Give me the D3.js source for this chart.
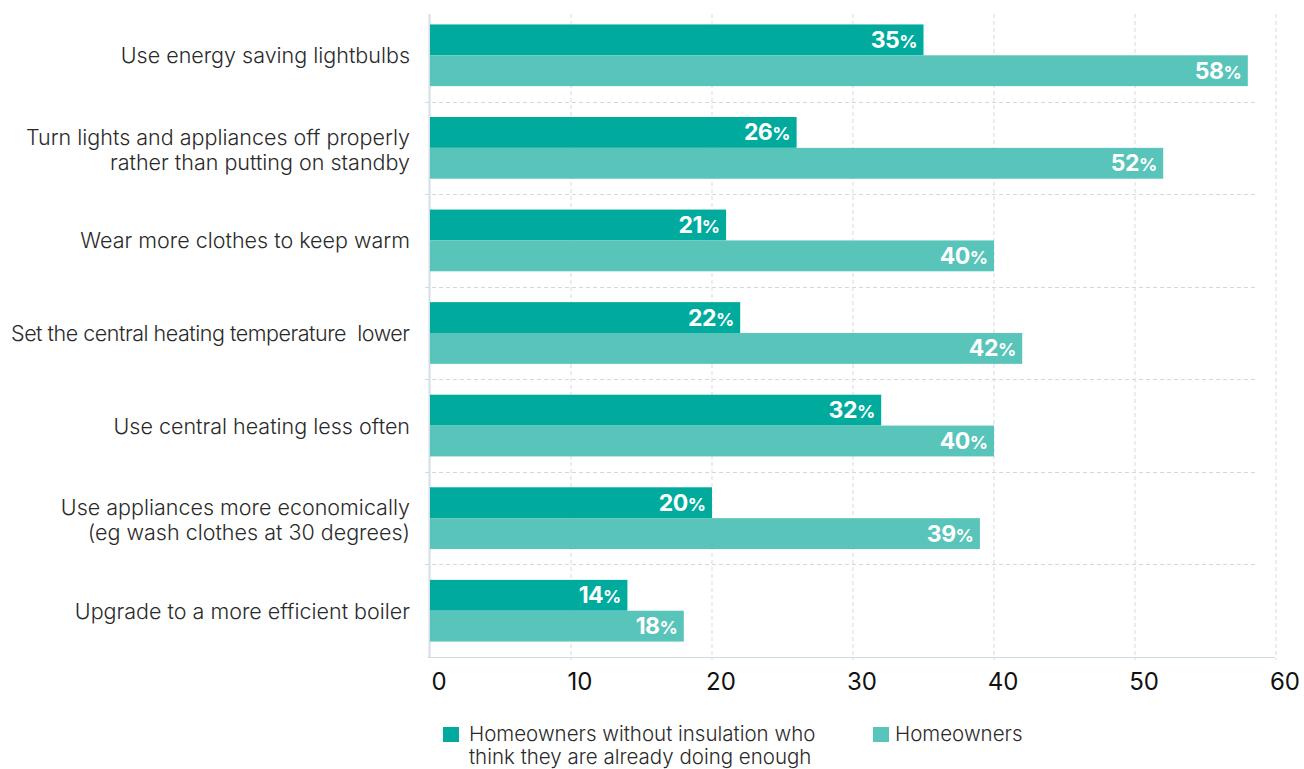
<!DOCTYPE html>
<html>
<head>
<meta charset="utf-8">
<script src="https://cdn.jsdelivr.net/npm/d3@7"></script>
<style>
  html, body { margin: 0; padding: 0; background: #fff; }
  svg { display: block; }
  .cat { font-family: Inter, "Open Sans", sans-serif; font-weight: 300; font-size: 21.5px; fill: #2a2a2a; white-space: pre; }
  .tick-label { font-family: Inter, "Open Sans", sans-serif; font-weight: 400; font-size: 24px; fill: #111; }
  .val { font-family: Inter, "Open Sans", sans-serif; font-weight: 700; fill: #fff; }
  .leg { font-family: Inter, "Open Sans", sans-serif; font-weight: 300; font-size: 20.5px; fill: #2a2a2a; }
</style>
</head>
<body>
<svg id="chart" width="1304" height="769"></svg>
<script>
// Survey actions (one line per label row)
const categories = [
  ["Use energy saving lightbulbs"],
  ["Turn lights and appliances off properly", "rather than putting on standby"],
  ["Wear more clothes to keep warm"],
  ["Set the central heating temperature  lower"],
  ["Use central heating less often"],
  ["Use appliances more economically", "(eg wash clothes at 30 degrees)"],
  ["Upgrade to a more efficient boiler"]
];
const seriesNames = [
  ["Homeowners without insulation who", "think they are already doing enough"],
  ["Homeowners"]
];
const withoutInsulation = [35, 26, 21, 22, 32, 20, 14];
const homeowners = [58, 52, 40, 42, 40, 39, 18];
const xTicks = [0, 10, 20, 30, 40, 50, 60];

const colors = ["#00ab9e", "#58c4ba"];
const gridColor = "#cfdbe3";

const svg = d3.select("#chart");
const plot = { left: 430, right: 1276, top: 9, bottom: 657 };
const labelRight = 410;
const labelMaxWidth = 399;

const x = d3.scaleLinear().domain([0, 60]).range([plot.left, plot.right]);
const y = d3.scaleBand().domain(d3.range(categories.length))
  .range([plot.top, plot.bottom]).paddingInner(0).paddingOuter(0);
const inner = d3.scaleBand().domain([0, 1]).range([0, y.bandwidth()]).paddingOuter(0.5).paddingInner(0);

// vertical dashed gridlines
svg.append("g").selectAll("line").data(xTicks.slice(1)).join("line")
  .attr("x1", d => x(d)).attr("x2", d => x(d))
  .attr("y1", 14).attr("y2", plot.bottom + 3)
  .attr("stroke", gridColor).attr("stroke-width", 1)
  .attr("stroke-dasharray", "4,3");

// horizontal dashed separators between groups
svg.append("g").selectAll("line").data(d3.range(1, categories.length)).join("line")
  .attr("x1", plot.left - 5).attr("x2", 1258)
  .attr("y1", d => Math.round(y(d)) + 0.5).attr("y2", d => Math.round(y(d)) + 0.5)
  .attr("stroke", gridColor).attr("stroke-width", 1)
  .attr("stroke-dasharray", "4,3");

// axis lines
svg.append("line").attr("x1", plot.left - 0.5).attr("x2", plot.left - 0.5)
  .attr("y1", 14).attr("y2", plot.bottom + 1)
  .attr("stroke", "#d6dee5").attr("stroke-width", 2);
svg.append("line").attr("x1", plot.left - 2).attr("x2", 1275)
  .attr("y1", plot.bottom + 0.5).attr("y2", plot.bottom + 0.5)
  .attr("stroke", "#cfdbe3").attr("stroke-width", 1);

// bars
const rows = categories.map((c, i) => ({ i, vals: [withoutInsulation[i], homeowners[i]] }));
const groups = svg.append("g").selectAll("g").data(rows).join("g")
  .attr("transform", d => `translate(0,${y(d.i)})`);

groups.selectAll("rect").data(d => d.vals.map((v, s) => ({ v, s }))).join("rect")
  .attr("x", x(0))
  .attr("y", d => inner(d.s))
  .attr("width", d => x(d.v) - x(0))
  .attr("height", inner.bandwidth())
  .attr("fill", d => colors[d.s]);

// value labels
const vt = groups.selectAll("text.val").data(d => d.vals.map((v, s) => ({ v, s }))).join("text")
  .attr("class", "val")
  .attr("x", d => x(d.v) - 6)
  .attr("y", d => inner(d.s) + inner.bandwidth() / 2 + 8)
  .attr("text-anchor", "end");
vt.append("tspan").attr("font-size", 23).attr("letter-spacing", -0.5).text(d => d.v);
vt.append("tspan").attr("font-size", 18).text("%");

// category labels, right-aligned against the axis
const ct = svg.append("g").selectAll("text").data(categories).join("text")
  .attr("class", "cat")
  .attr("text-anchor", "end")
  .attr("transform", (d, i) => `translate(${labelRight},${y(i) + y.bandwidth() / 2 + (d.length > 1 ? -3 : 8)})`);
ct.selectAll("tspan").data(d => d).join("tspan")
  .attr("x", 0).attr("dy", (d, j) => j === 0 ? 0 : 25)
  .text(d => d)
  .each(function () {
    // tighten any line that would run past the left margin
    if (this.getComputedTextLength() > labelMaxWidth) {
      d3.select(this).attr("textLength", labelMaxWidth).attr("lengthAdjust", "spacing");
    }
  });

// x tick labels
svg.append("g").selectAll("text").data(xTicks).join("text")
  .attr("class", "tick-label")
  .attr("x", d => x(d) + 9)
  .attr("y", 690)
  .attr("text-anchor", "middle")
  .text(d => d);

// legend
const legendX = [443, 873];
const legendTextDx = [26, 22];
const leg = svg.append("g").selectAll("g").data(seriesNames).join("g")
  .attr("transform", (d, i) => `translate(${legendX[i]},727)`);
leg.append("rect").attr("width", 16).attr("height", 15).attr("fill", (d, i) => colors[i]);
leg.each(function (d, i) {
  // one text element per legend line
  d3.select(this).selectAll("text").data(d).join("text")
    .attr("class", "leg")
    .attr("x", legendTextDx[i])
    .attr("y", (t, j) => 14 + j * 23)
    .text(t => t);
});
</script>
</body>
</html>
